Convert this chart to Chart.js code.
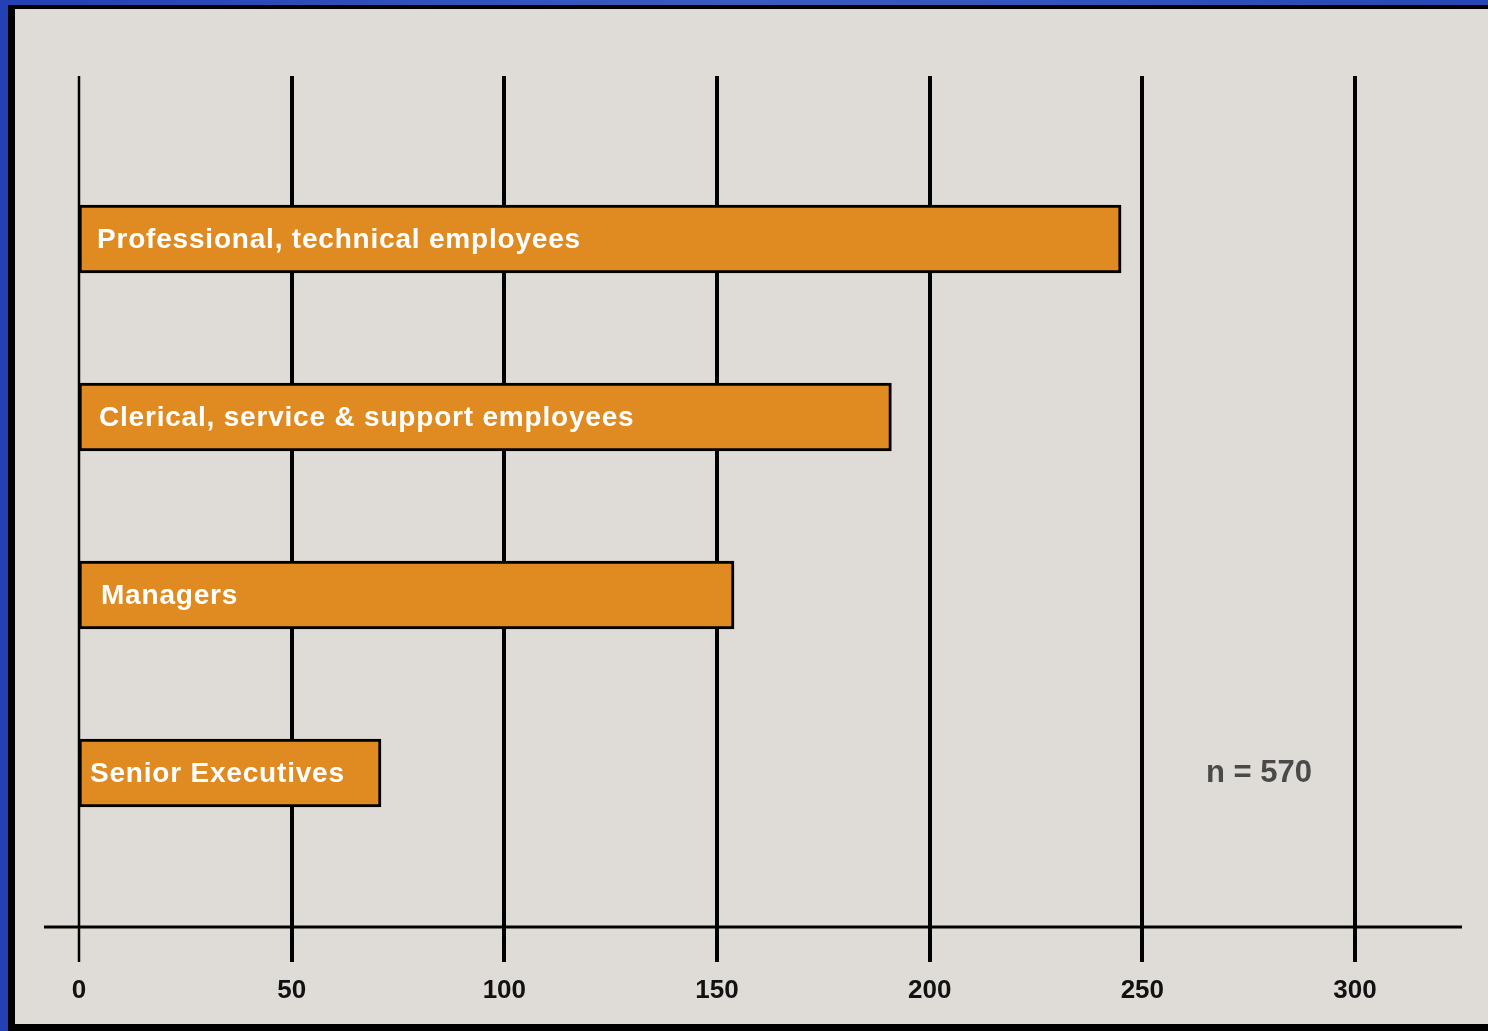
<!DOCTYPE html>
<html>
<head>
<meta charset="utf-8">
<title>Employees by category</title>
<script src="https://cdn.jsdelivr.net/npm/chart.js@4/dist/chart.umd.min.js"></script>
<style>
  html, body { margin: 0; padding: 0; width: 1488px; height: 1031px; overflow: hidden; }
  body { background: linear-gradient(90deg, #2340b4 0%, #3a5cc0 50%, #2547b5 100%); position: relative; }
  #panel {
    position: absolute; left: 8px; top: 5px; right: -10px; bottom: 0;
    background: #dfdcd7;
    border-left: 7px solid #000; border-top: 4px solid #000; border-bottom: 7px solid #000;
  }
  #wrap { position: absolute; left: 0; top: 0; width: 1488px; height: 1031px; }
</style>
</head>
<body>
<div id="panel"></div>
<div id="wrap"><canvas id="c" width="1488" height="1031"></canvas></div>
<script>
// Employee groups, top to bottom
const categories = [
  'Professional, technical employees',
  'Clerical, service & support employees',
  'Managers',
  'Senior Executives'
];
const counts = [245, 191, 154, 71];
const tickValues = [0, 50, 100, 150, 200, 250, 300];
const sampleNote = 'n = 570';

const GRID_TOP = 76, GRID_BOTTOM = 962, AXIS_Y = 927, AXIS_LEFT = 44, AXIS_RIGHT = 1462;

// Vertical grid lines and the horizontal axis, extending past the plot box
const frameLines = {
  id: 'frameLines',
  beforeDatasetsDraw(chart) {
    const { ctx, scales: { x } } = chart;
    ctx.save();
    ctx.strokeStyle = '#000';
    tickValues.forEach((v, i) => {
      const px = Math.round(x.getPixelForValue(v));
      ctx.lineWidth = i === 0 ? 2.5 : 4;
      ctx.beginPath();
      ctx.moveTo(px, GRID_TOP);
      ctx.lineTo(px, GRID_BOTTOM);
      ctx.stroke();
    });
    ctx.lineWidth = 3;
    ctx.beginPath();
    ctx.moveTo(AXIS_LEFT, AXIS_Y);
    ctx.lineTo(AXIS_RIGHT, AXIS_Y);
    ctx.stroke();
    ctx.restore();
  }
};

// Category names written inside each bar, plus the sample size note
const barLabels = {
  id: 'barLabels',
  afterDatasetsDraw(chart) {
    const { ctx } = chart;
    const meta = chart.getDatasetMeta(0);
    const insets = [18, 20, 22, 11];
    ctx.save();
    ctx.fillStyle = '#ffffff';
    ctx.font = 'bold 28px "Liberation Sans", Arial, sans-serif';
    ctx.letterSpacing = '0.8px';
    ctx.textBaseline = 'middle';
    ctx.textAlign = 'left';
    meta.data.forEach((bar, i) => {
      ctx.fillText(categories[i], bar.base + insets[i], bar.y + 1);
    });
    ctx.letterSpacing = '0px';
    const y = chart.scales.y.getPixelForValue(3);
    ctx.fillStyle = '#4a4a4a';
    ctx.font = 'bold 31px "Liberation Sans", Arial, sans-serif';
    ctx.textAlign = 'center';
    ctx.fillText(sampleNote, 1259, y);
    ctx.restore();
  }
};

new Chart(document.getElementById('c'), {
  type: 'bar',
  data: {
    labels: categories,
    datasets: [{
      data: counts,
      backgroundColor: '#e08a22',
      borderColor: '#000000',
      borderWidth: 3,
      borderSkipped: false,
      barThickness: 68
    }]
  },
  options: {
    indexAxis: 'y',
    responsive: false,
    animation: false,
    layout: { padding: { left: 79, right: 133, top: 150, bottom: 0 } },
    plugins: { legend: { display: false }, tooltip: { enabled: false } },
    scales: {
      x: {
        type: 'linear',
        min: 0,
        max: 300,
        afterBuildTicks(scale) { scale.ticks = tickValues.map(v => ({ value: v })); },
        afterFit(scale) { scale.height = 169; },
        grid: { display: false, drawTicks: true, tickLength: 111 },
        border: { display: false },
        ticks: {
          color: '#111',
          padding: 2,
          font: { family: '"Liberation Sans", Arial, sans-serif', size: 26, weight: 'bold' }
        }
      },
      y: {
        display: false,
        grid: { display: false }
      }
    }
  },
  plugins: [frameLines, barLabels]
});
</script>
</body>
</html>
